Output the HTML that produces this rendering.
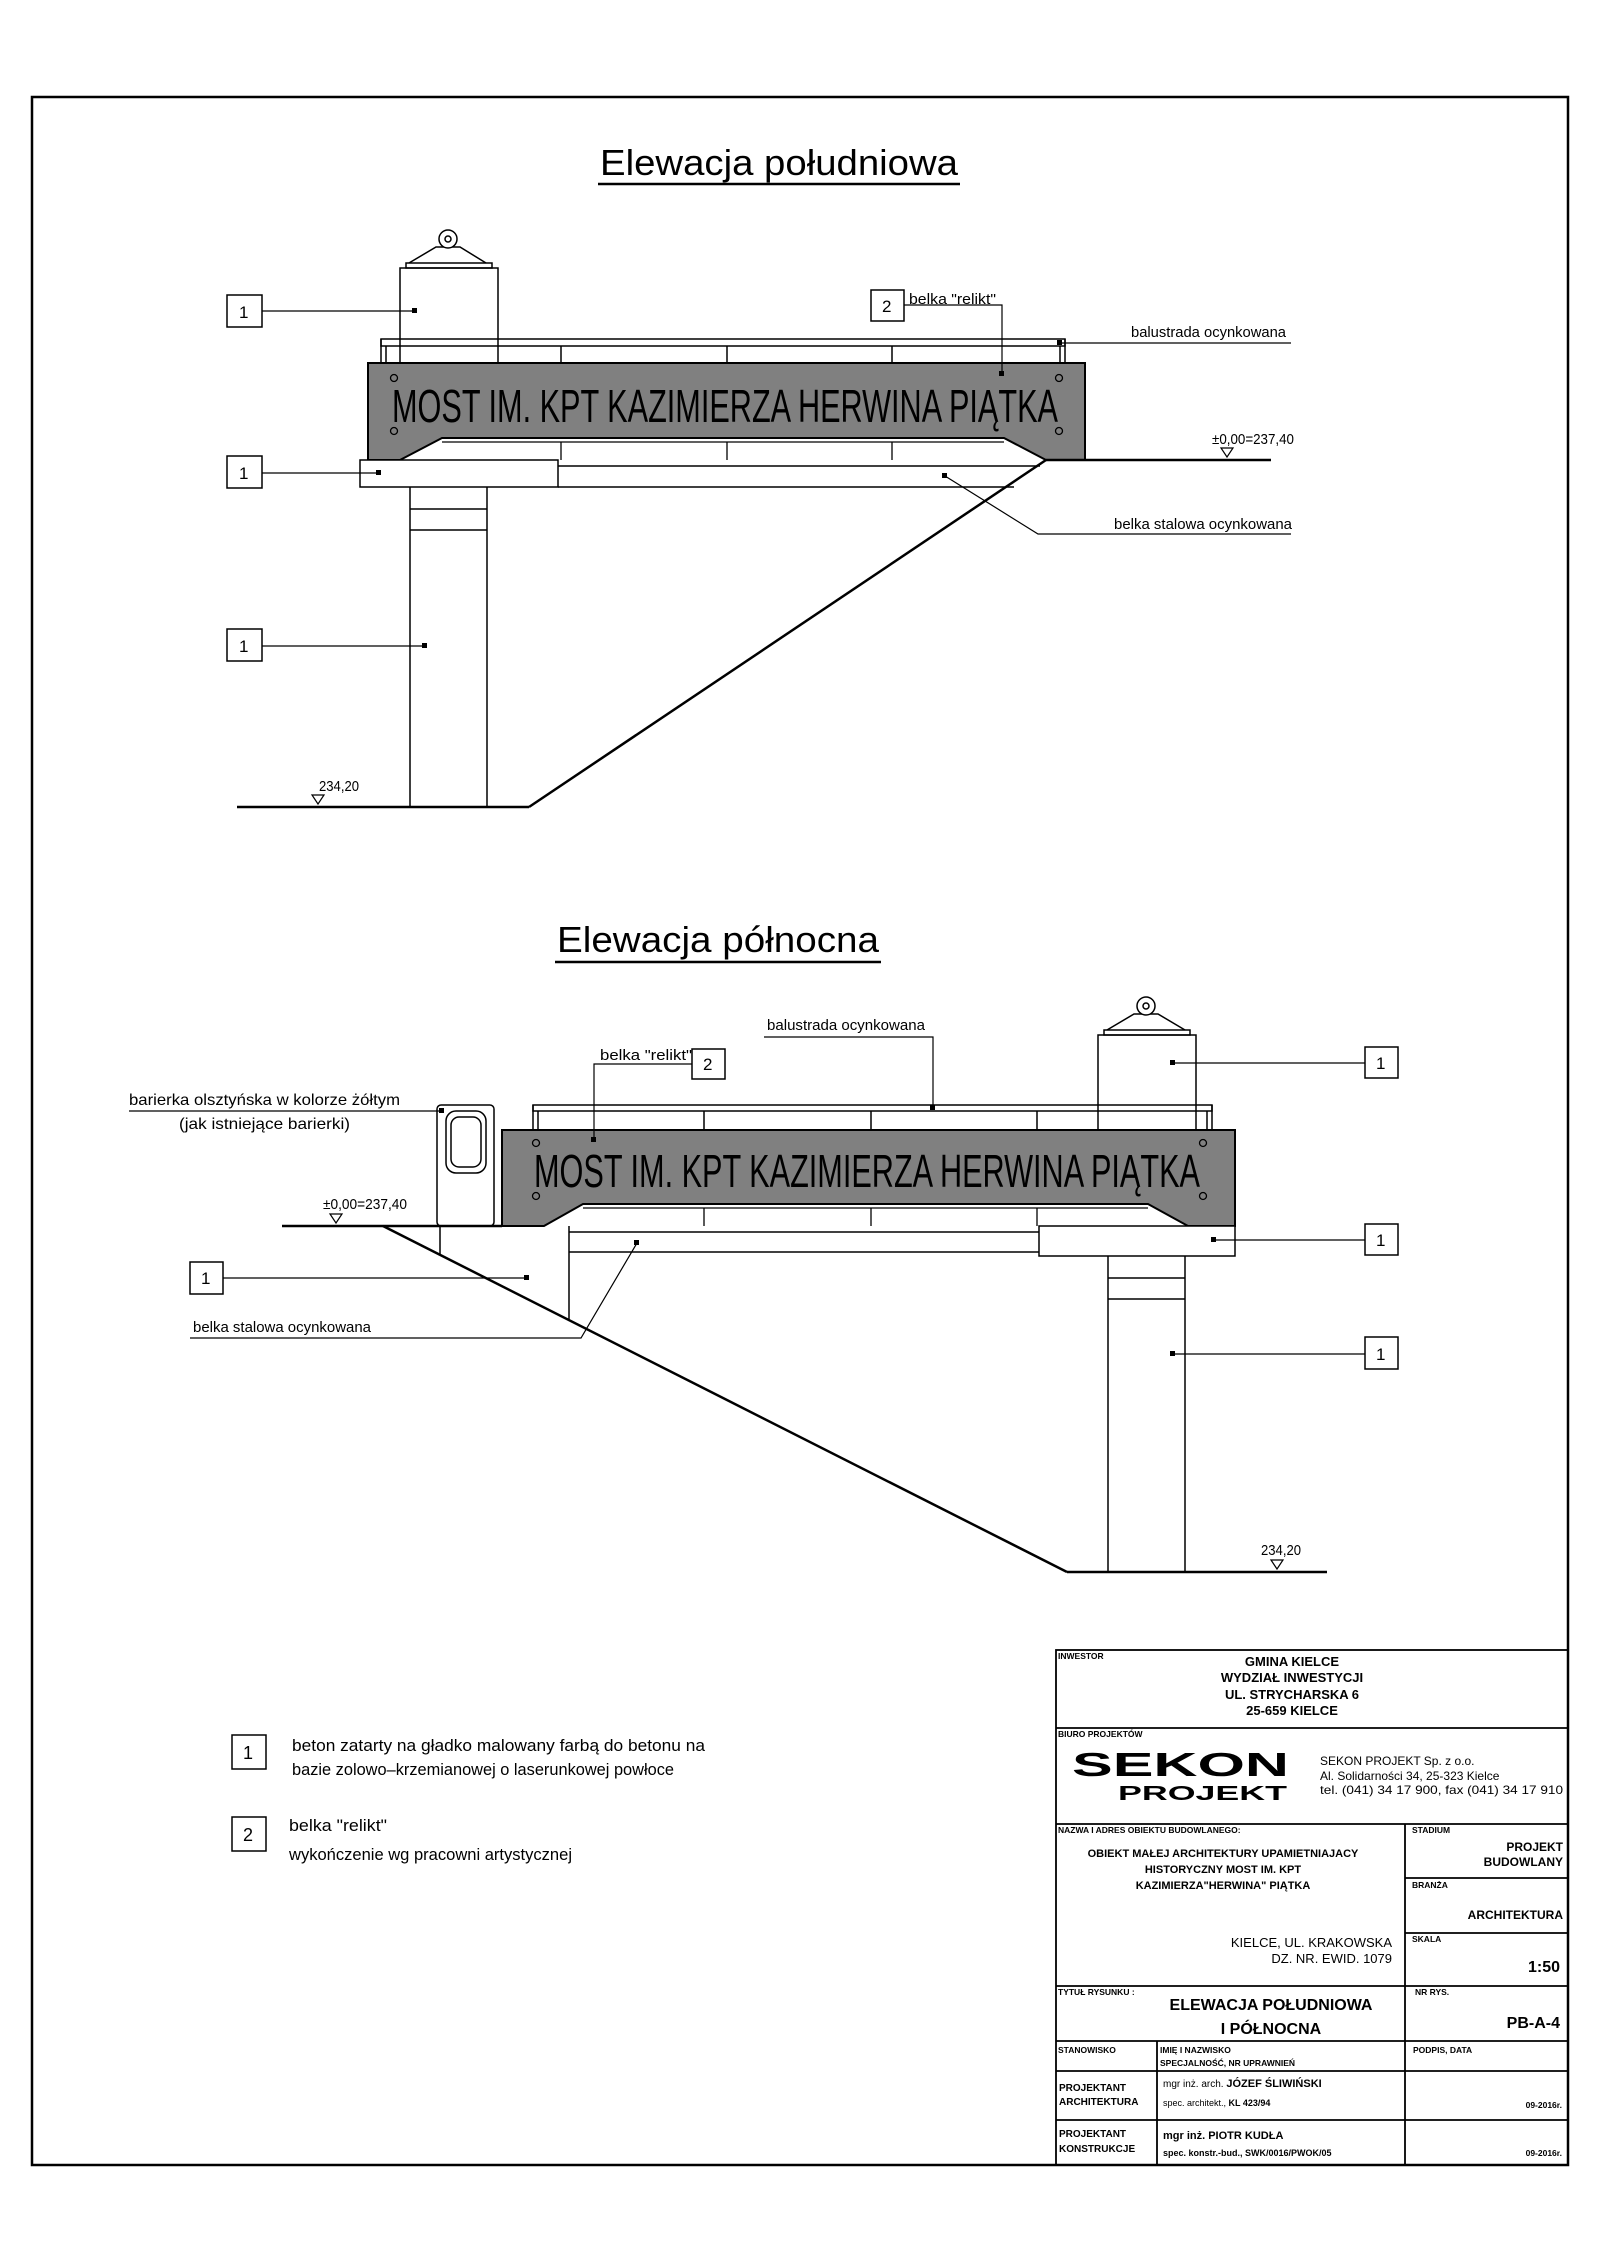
<!DOCTYPE html>
<html><head><meta charset="utf-8"><style>
html,body{margin:0;padding:0;background:#fff;}
svg{display:block;}
.t{font-family:"Liberation Sans Narrow","Liberation Sans",sans-serif;fill:#000;}
.b{font-family:"Liberation Sans",sans-serif;font-weight:bold;fill:#000;}
.r{font-family:"Liberation Sans",sans-serif;fill:#000;}
</style></head><body>
<svg width="1600" height="2263" viewBox="0 0 1600 2263" xmlns="http://www.w3.org/2000/svg">
<rect x="32" y="97" width="1536" height="2068" fill="none" stroke="#000" stroke-width="2.5"/>

<!-- ========== SOUTH ELEVATION ========== -->
<text class="t" x="600" y="175" font-size="36" textLength="358" lengthAdjust="spacingAndGlyphs">Elewacja  południowa</text>
<line x1="598" y1="184" x2="960" y2="184" stroke="#000" stroke-width="2.5"/>

<g stroke="#000" fill="none" stroke-width="1.5">
<rect x="400" y="268" width="98" height="95" fill="#fff"/>
<rect x="406" y="263" width="86" height="5"/>
<polyline points="409,263 436,247 460,247 486,263"/>
<circle cx="448" cy="239" r="9" fill="#fff"/>
<circle cx="448" cy="239" r="3"/>
<rect x="381" y="339" width="684" height="7"/>
<line x1="381" y1="339" x2="381" y2="363"/><line x1="386" y1="346" x2="386" y2="363"/>
<line x1="1065" y1="339" x2="1065" y2="363"/><line x1="1060" y1="346" x2="1060" y2="363"/>
<line x1="561" y1="346" x2="561" y2="363"/><line x1="727" y1="346" x2="727" y2="363"/><line x1="892" y1="346" x2="892" y2="363"/>
</g>
<path d="M368,363 H1085 V460 H1046 L1004,438 H442 L400,460 H368 Z" fill="#808080" stroke="#000" stroke-width="2"/>
<g stroke="#000" fill="none" stroke-width="1.3">
<line x1="442" y1="442" x2="1004" y2="442"/>
<line x1="561" y1="442" x2="561" y2="460"/><line x1="727" y1="442" x2="727" y2="460"/><line x1="892" y1="442" x2="892" y2="460"/>
<circle cx="394" cy="378" r="3.5"/><circle cx="1059" cy="378" r="3.5"/><circle cx="394" cy="431" r="3.5"/><circle cx="1059" cy="431" r="3.5"/>
</g>
<text class="t" x="392" y="422" font-size="46" textLength="666" lengthAdjust="spacingAndGlyphs">MOST  IM.  KPT  KAZIMIERZA  HERWINA PIĄTKA</text>
<g stroke="#000" fill="none" stroke-width="1.5">
<rect x="360" y="460" width="198" height="27" fill="#fff"/>
<line x1="558" y1="466" x2="1040" y2="466"/>
<line x1="558" y1="487" x2="1014" y2="487"/>
<line x1="410" y1="487" x2="410" y2="807"/><line x1="487" y1="487" x2="487" y2="807"/>
<line x1="410" y1="509" x2="487" y2="509"/><line x1="410" y1="530" x2="487" y2="530"/>
</g>
<g stroke="#000" stroke-width="2.5" fill="none">
<line x1="1046" y1="460" x2="1271" y2="460"/>
<line x1="1046" y1="460" x2="529" y2="807"/>
<line x1="237" y1="807" x2="529" y2="807"/>
</g>
<path d="M1221,448 H1233 L1227,457 Z" fill="none" stroke="#000" stroke-width="1.2"/>
<text class="t" x="1212" y="444" font-size="15" textLength="82" lengthAdjust="spacingAndGlyphs">±0,00=237,40</text>
<path d="M312,795 H324 L318,804 Z" fill="none" stroke="#000" stroke-width="1.2"/>
<text class="t" x="319" y="791" font-size="15" textLength="40" lengthAdjust="spacingAndGlyphs">234,20</text>

<g stroke="#000" stroke-width="1.5" fill="#fff">
<rect x="227" y="295" width="35" height="32"/>
<rect x="227" y="456" width="35" height="32"/>
<rect x="227" y="629" width="35" height="32"/>
<rect x="871" y="290" width="33" height="31"/>
</g>
<g stroke="#000" stroke-width="1.2" fill="none">
<line x1="262" y1="311" x2="415" y2="311"/>
<line x1="262" y1="473" x2="379" y2="473"/>
<line x1="262" y1="646" x2="425" y2="646"/>
<polyline points="904,305 1002,305 1002,374"/>
<line x1="1059" y1="343" x2="1291" y2="343"/>
<polyline points="945,476 1038,534 1291,534"/>
</g>
<g fill="#000">
<rect x="412" y="308" width="5" height="5"/><rect x="376" y="470" width="5" height="5"/><rect x="422" y="643" width="5" height="5"/>
<rect x="999" y="371" width="5" height="5"/><rect x="1057" y="340" width="5" height="5"/><rect x="942" y="473" width="5" height="5"/>
</g>
<g class="t" font-size="17">
<text x="239" y="318">1</text><text x="239" y="479">1</text><text x="239" y="652">1</text><text x="882" y="312">2</text>
</g>
<text class="t" x="909" y="304" font-size="15" textLength="87" lengthAdjust="spacingAndGlyphs">belka "relikt"</text>
<text class="t" x="1131" y="337" font-size="15" textLength="155" lengthAdjust="spacingAndGlyphs">balustrada  ocynkowana</text>
<text class="t" x="1114" y="529" font-size="15" textLength="178" lengthAdjust="spacingAndGlyphs">belka  stalowa  ocynkowana</text>

<!-- ========== NORTH ELEVATION ========== -->
<text class="t" x="557" y="952" font-size="36" textLength="322" lengthAdjust="spacingAndGlyphs">Elewacja  północna</text>
<line x1="555" y1="962" x2="881" y2="962" stroke="#000" stroke-width="2.5"/>

<g stroke="#000" fill="none" stroke-width="1.5">
<rect x="1098" y="1035" width="98" height="95" fill="#fff"/>
<rect x="1104" y="1030" width="86" height="5"/>
<polyline points="1107,1030 1134,1014 1158,1014 1185,1030"/>
<circle cx="1146" cy="1006" r="9" fill="#fff"/>
<circle cx="1146" cy="1006" r="3"/>
<rect x="533" y="1105" width="679" height="6"/>
<line x1="533" y1="1105" x2="533" y2="1130"/><line x1="538" y1="1111" x2="538" y2="1130"/>
<line x1="1212" y1="1105" x2="1212" y2="1130"/><line x1="1207" y1="1111" x2="1207" y2="1130"/>
<line x1="704" y1="1111" x2="704" y2="1130"/><line x1="871" y1="1111" x2="871" y2="1130"/><line x1="1037" y1="1111" x2="1037" y2="1130"/>
<rect x="437" y="1105" width="57" height="121" rx="4" fill="#fff"/>
<rect x="446" y="1111" width="40" height="62" rx="10"/>
<rect x="451" y="1117" width="30" height="50" rx="8"/>
<line x1="440" y1="1226" x2="440" y2="1254"/>
</g>
<path d="M502,1130 H1235 V1226 H1188 L1148,1204 H583 L544,1226 H502 Z" fill="#808080" stroke="#000" stroke-width="2"/>
<g stroke="#000" fill="none" stroke-width="1.3">
<line x1="583" y1="1208" x2="1148" y2="1208"/>
<line x1="704" y1="1208" x2="704" y2="1226"/><line x1="871" y1="1208" x2="871" y2="1226"/><line x1="1037" y1="1208" x2="1037" y2="1226"/>
<circle cx="536" cy="1143" r="3.5"/><circle cx="1203" cy="1143" r="3.5"/><circle cx="536" cy="1196" r="3.5"/><circle cx="1203" cy="1196" r="3.5"/>
</g>
<text class="t" x="534" y="1187" font-size="46" textLength="666" lengthAdjust="spacingAndGlyphs">MOST  IM.  KPT  KAZIMIERZA  HERWINA PIĄTKA</text>
<g stroke="#000" fill="none" stroke-width="1.5">
<rect x="1039" y="1226" width="196" height="30" fill="#fff"/>
<line x1="569" y1="1232" x2="1039" y2="1232"/>
<line x1="569" y1="1252" x2="1039" y2="1252"/>
<line x1="569" y1="1226" x2="569" y2="1319"/>
<line x1="1108" y1="1256" x2="1108" y2="1572"/><line x1="1185" y1="1256" x2="1185" y2="1572"/>
<line x1="1108" y1="1278" x2="1185" y2="1278"/><line x1="1108" y1="1299" x2="1185" y2="1299"/>
</g>
<g stroke="#000" stroke-width="2.5" fill="none">
<line x1="282" y1="1226" x2="502" y2="1226"/>
<line x1="383" y1="1226" x2="1067" y2="1572"/>
<line x1="1067" y1="1572" x2="1327" y2="1572"/>
</g>
<path d="M330,1214 H342 L336,1223 Z" fill="none" stroke="#000" stroke-width="1.2"/>
<text class="t" x="323" y="1209" font-size="15" textLength="84" lengthAdjust="spacingAndGlyphs">±0,00=237,40</text>
<path d="M1271,1560 H1283 L1277,1569 Z" fill="none" stroke="#000" stroke-width="1.2"/>
<text class="t" x="1261" y="1555" font-size="15" textLength="40" lengthAdjust="spacingAndGlyphs">234,20</text>

<g stroke="#000" stroke-width="1.5" fill="#fff">
<rect x="1365" y="1047" width="33" height="31"/>
<rect x="1365" y="1224" width="33" height="31"/>
<rect x="1365" y="1337" width="33" height="32"/>
<rect x="190" y="1262" width="33" height="32"/>
<rect x="692" y="1049" width="33" height="30"/>
</g>
<g stroke="#000" stroke-width="1.2" fill="none">
<line x1="1173" y1="1063" x2="1365" y2="1063"/>
<line x1="1214" y1="1240" x2="1365" y2="1240"/>
<line x1="1173" y1="1354" x2="1365" y2="1354"/>
<line x1="223" y1="1278" x2="527" y2="1278"/>
<polyline points="692,1064 594,1064 594,1140"/>
<polyline points="764,1037 933,1037 933,1108"/>
<polyline points="129,1111 442,1111"/>
<polyline points="190,1338 581,1338 637,1243"/>
</g>
<g fill="#000">
<rect x="1170" y="1060" width="5" height="5"/><rect x="1211" y="1237" width="5" height="5"/><rect x="1170" y="1351" width="5" height="5"/>
<rect x="524" y="1275" width="5" height="5"/><rect x="591" y="1137" width="5" height="5"/><rect x="930" y="1105" width="5" height="5"/>
<rect x="439" y="1108" width="5" height="5"/><rect x="634" y="1240" width="5" height="5"/>
</g>
<g class="t" font-size="17">
<text x="1376" y="1069">1</text><text x="1376" y="1246">1</text><text x="1376" y="1360">1</text><text x="201" y="1284">1</text><text x="703" y="1070">2</text>
</g>
<text class="t" x="600" y="1060" font-size="15" textLength="92" lengthAdjust="spacingAndGlyphs">belka "relikt"</text>
<text class="t" x="767" y="1030" font-size="15" textLength="158" lengthAdjust="spacingAndGlyphs">balustrada  ocynkowana</text>
<text class="t" x="129" y="1105" font-size="16" textLength="271" lengthAdjust="spacingAndGlyphs">barierka  olsztyńska  w  kolorze  żółtym</text>
<text class="t" x="179" y="1129" font-size="16" textLength="171" lengthAdjust="spacingAndGlyphs">(jak  istniejące  barierki)</text>
<text class="t" x="193" y="1332" font-size="15" textLength="178" lengthAdjust="spacingAndGlyphs">belka  stalowa  ocynkowana</text>

<!-- legend -->
<g stroke="#000" stroke-width="1.5" fill="#fff">
<rect x="232" y="1735" width="34" height="34"/>
<rect x="232" y="1817" width="34" height="34"/>
</g>
<g class="t" font-size="18"><text x="243" y="1759">1</text><text x="243" y="1841">2</text></g>
<g class="t" font-size="17">
<text x="292" y="1751" textLength="413" lengthAdjust="spacingAndGlyphs">beton  zatarty  na  gładko  malowany  farbą  do  betonu  na</text>
<text x="292" y="1775" textLength="382" lengthAdjust="spacingAndGlyphs">bazie  zolowo–krzemianowej  o  laserunkowej  powłoce</text>
<text x="289" y="1831" textLength="98" lengthAdjust="spacingAndGlyphs">belka  "relikt"</text>
<text x="289" y="1860" textLength="283" lengthAdjust="spacingAndGlyphs">wykończenie  wg  pracowni  artystycznej</text>
</g>

<!-- title block -->
<g stroke="#000" stroke-width="1.8" fill="none">
<rect x="1056" y="1650" width="512" height="515"/>
<line x1="1056" y1="1728" x2="1568" y2="1728"/>
<line x1="1056" y1="1824" x2="1568" y2="1824"/>
<line x1="1056" y1="1986" x2="1568" y2="1986"/>
<line x1="1056" y1="2041" x2="1568" y2="2041"/>
<line x1="1056" y1="2071" x2="1568" y2="2071"/>
<line x1="1056" y1="2120" x2="1568" y2="2120"/>
<line x1="1405" y1="1824" x2="1405" y2="2165"/>
<line x1="1405" y1="1878" x2="1568" y2="1878"/>
<line x1="1405" y1="1933" x2="1568" y2="1933"/>
<line x1="1157" y1="2041" x2="1157" y2="2165"/>
</g>
<g class="b" font-size="8.5">
<text x="1058" y="1659">INWESTOR</text>
<text x="1058" y="1737">BIURO PROJEKTÓW</text>
<text x="1058" y="1833">NAZWA I ADRES OBIEKTU BUDOWLANEGO:</text>
<text x="1412" y="1833">STADIUM</text>
<text x="1412" y="1888">BRANŻA</text>
<text x="1412" y="1942">SKALA</text>
<text x="1058" y="1995">TYTUŁ RYSUNKU :</text>
<text x="1415" y="1995">NR RYS.</text>
<text x="1058" y="2053">STANOWISKO</text>
<text x="1160" y="2053">IMIĘ I  NAZWISKO</text>
<text x="1160" y="2066">SPECJALNOŚĆ, NR UPRAWNIEŃ</text>
<text x="1413" y="2053">PODPIS, DATA</text>
</g>
<g class="b" font-size="13" text-anchor="middle">
<text x="1292" y="1666">GMINA KIELCE</text>
<text x="1292" y="1682">WYDZIAŁ INWESTYCJI</text>
<text x="1292" y="1699">UL.    STRYCHARSKA 6</text>
<text x="1292" y="1715">25-659 KIELCE</text>
</g>
<text class="b" x="1072" y="1776" font-size="33" textLength="217" lengthAdjust="spacingAndGlyphs">SEKON</text>
<text class="b" x="1118" y="1800" font-size="20" textLength="169" lengthAdjust="spacingAndGlyphs">PROJEKT</text>
<g class="r" font-size="12">
<text x="1320" y="1765">SEKON PROJEKT Sp. z o.o.</text>
<text x="1320" y="1780">Al. Solidarności 34, 25-323 Kielce</text>
<text x="1320" y="1794" textLength="243" lengthAdjust="spacingAndGlyphs">tel. (041) 34 17 900, fax (041) 34 17 910</text>
</g>
<g class="b" font-size="11" text-anchor="middle">
<text x="1223" y="1857">OBIEKT MAŁEJ ARCHITEKTURY UPAMIETNIAJACY</text>
<text x="1223" y="1873">HISTORYCZNY MOST IM. KPT</text>
<text x="1223" y="1889">KAZIMIERZA"HERWINA" PIĄTKA</text>
</g>
<g class="r" font-size="13" text-anchor="end">
<text x="1392" y="1947">KIELCE, UL. KRAKOWSKA</text>
<text x="1392" y="1963">DZ. NR. EWID. 1079</text>
</g>
<g class="b" text-anchor="end">
<text x="1563" y="1851" font-size="12">PROJEKT</text>
<text x="1563" y="1866" font-size="12">BUDOWLANY</text>
<text x="1563" y="1919" font-size="12">ARCHITEKTURA</text>
<text x="1560" y="1972" font-size="16">1:50</text>
<text x="1560" y="2028" font-size="16">PB-A-4</text>
<text x="1562" y="2108" font-size="8.5">09-2016r.</text>
<text x="1562" y="2156" font-size="8.5">09-2016r.</text>
</g>
<g class="b" font-size="16" text-anchor="middle">
<text x="1271" y="2010">ELEWACJA POŁUDNIOWA</text>
<text x="1271" y="2034">I PÓŁNOCNA</text>
</g>
<g class="b" font-size="10">
<text x="1059" y="2091">PROJEKTANT</text>
<text x="1059" y="2105">ARCHITEKTURA</text>
<text x="1059" y="2137">PROJEKTANT</text>
<text x="1059" y="2152">KONSTRUKCJE</text>
</g>
<text x="1163" y="2087" font-size="10"><tspan class="r">mgr inż. arch. </tspan><tspan class="b" font-size="11">JÓZEF ŚLIWIŃSKI</tspan></text>
<text x="1163" y="2106" font-size="9"><tspan class="r">spec. architekt., </tspan><tspan class="b">KL 423/94</tspan></text>
<text x="1163" y="2139" font-size="11" class="b">mgr inż.  PIOTR KUDŁA</text>
<text x="1163" y="2156" font-size="9" class="b">spec. konstr.-bud., SWK/0016/PWOK/05</text>
</svg>
</body></html>
